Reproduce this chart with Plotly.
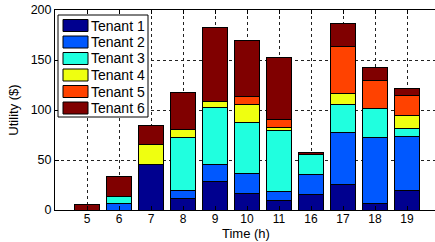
import plotly.graph_objects as go

hours = ["5", "6", "7", "8", "9", "10", "11", "16", "17", "18", "19"]
tenant_names = ["Tenant 1", "Tenant 2", "Tenant 3", "Tenant 4", "Tenant 5", "Tenant 6"]
tenant1 = [0, 0, 46, 12, 29, 17, 10, 16, 26, 7, 20]
tenant2 = [0, 7, 0, 7.5, 16.5, 20, 8.5, 19.5, 52, 65.5, 53.5]
tenant3 = [0, 6.5, 0, 53.5, 57.5, 50.5, 61.5, 20, 27.5, 29.5, 8.5]
tenant4 = [0, 0, 20, 7.5, 6, 18, 2.5, 0, 11.5, 0, 13]
tenant5 = [0, 0, 0, 0, 0, 8.5, 8.5, 0, 46.5, 27.5, 20]
tenant6 = [5.5, 20.5, 18.5, 37.5, 73.5, 55.5, 61.5, 2, 23.5, 13.5, 7]
colors = ["#00008F", "#0058FF", "#20FFDF", "#EFFF10", "#FF4200", "#800000"]

series = [tenant1, tenant2, tenant3, tenant4, tenant5, tenant6]
FONT = "Liberation Sans, Arial, Helvetica, sans-serif"

W, H = 435, 242
ML, MR, MT, MB = 55, 0, 10, 32
PW, PH = W - ML - MR, H - MT - MB

fig = go.Figure()
for name, vals, col in zip(tenant_names, series, colors):
    fig.add_trace(go.Bar(
        x=hours, y=[v if v else None for v in vals], name=name,
        marker=dict(color=col, line=dict(color="black", width=1)),
        showlegend=False,
    ))

def px_x(p):
    return (p - ML) / PW

def px_y(p):
    return 1 - (p - MT) / PH

shapes = []
annotations = []
# legend box
shapes.append(dict(type="rect", xref="paper", yref="paper",
                   x0=px_x(58), x1=px_x(148), y0=px_y(117), y1=px_y(15),
                   fillcolor="white", line=dict(color="black", width=1), layer="above"))
for i, (name, col) in enumerate(zip(tenant_names, colors)):
    cy = 25.5 + 16.5 * i
    shapes.append(dict(type="rect", xref="paper", yref="paper",
                       x0=px_x(63), x1=px_x(88), y0=px_y(cy + 6), y1=px_y(cy - 6),
                       fillcolor=col, line=dict(color="black", width=1), layer="above"))
    annotations.append(dict(xref="paper", yref="paper", x=px_x(89), y=px_y(cy),
                            text=name, showarrow=False, xanchor="left", yanchor="middle",
                            font=dict(family=FONT, size=14, color="black")))

# x-axis title
annotations.append(dict(xref="paper", yref="paper", x=px_x(246), y=px_y(233),
                        text="Time (h)", showarrow=False, xanchor="center", yanchor="middle",
                        font=dict(family=FONT, size=13, color="black")))

fig.update_layout(
    width=W, height=H, autosize=False,
    margin=dict(l=ML, r=MR, t=MT, b=MB, pad=0),
    paper_bgcolor="white", plot_bgcolor="white",
    barmode="stack", bargap=0.19,
    font=dict(family=FONT, size=13, color="black"),
    shapes=shapes, annotations=annotations,
    xaxis=dict(
        type="category", range=[-1, 10.875],
        showline=True, linecolor="black", linewidth=1, mirror="ticks",
        ticks="inside", ticklen=4, tickcolor="black",
        showgrid=True, gridcolor="#222", griddash="dot", gridwidth=1,
        tickfont=dict(size=12), ticklabelstandoff=-2,
    ),
    yaxis=dict(
        range=[0, 200], dtick=50,
        showline=True, linecolor="black", linewidth=1,
        ticks="inside", ticklen=4, tickcolor="black",
        showgrid=True, gridcolor="#222", griddash="dot", gridwidth=1,
        zeroline=False,
        tickfont=dict(size=12.5),
        title=dict(text="Utility ($)", font=dict(size=13), standoff=9),
    ),
)

fig.write_html("out.html", config={"displayModeBar": False},
               post_script="document.body.style.margin='0';document.body.style.overflow='hidden';")
